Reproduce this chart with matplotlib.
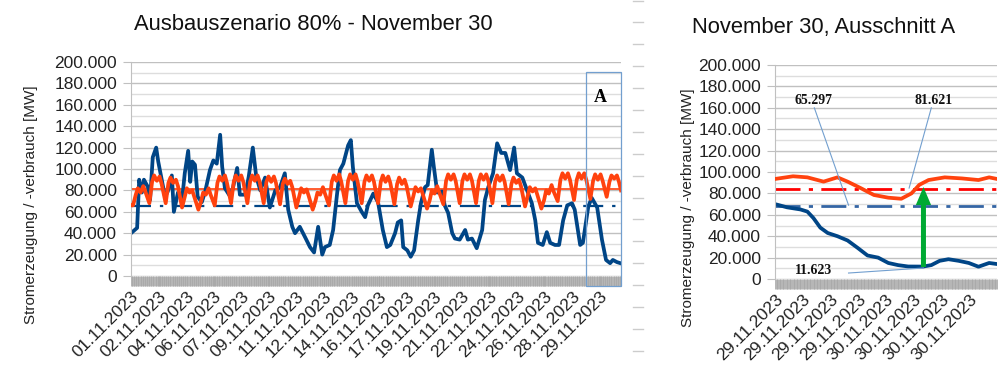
import matplotlib.pyplot as plt
import numpy as np
from matplotlib.ticker import FuncFormatter, MultipleLocator, FixedLocator
from matplotlib.lines import Line2D
from matplotlib.patches import Rectangle

plt.rcParams['font.family'] = ['Liberation Sans', 'DejaVu Sans']

BLUE = '#004586'
ORANGE = '#ff420e'
GRID = '#c0c0c0'
GRID_MINOR = '#dddddd'
LEAD = '#729fcf'
GREEN = '#00a933'

# --- Monat November (Stunden ab 01.11.2023 00:00), Werte in 1000 MW ---
gen_hours = [0, 9, 12, 16, 19, 25, 28, 32, 37, 40, 46, 50, 54, 60, 63, 69, 75, 79,
             84, 87, 90, 94, 98, 104, 109, 116, 121, 126, 131, 134, 138, 146, 150,
             156, 160, 168, 173, 179, 184, 190, 197, 204, 212, 219, 226, 231, 237,
             241, 248, 256, 263, 269, 275, 281, 285, 292, 297, 303, 307, 312, 319,
             323, 326, 332, 339, 344, 348, 356, 363, 370, 376, 381, 388, 392, 397,
             400, 406, 411, 416, 422, 426, 432, 436, 442, 445, 450, 457, 461, 466,
             472, 476, 483, 491, 495, 501, 508, 516, 520, 525, 532, 538, 544, 550,
             557, 563, 567, 575, 582, 589, 594, 598, 605, 611, 616, 623, 629, 635,
             641, 648, 652, 660, 664, 672, 677, 685, 692, 698, 704, 708, 714, 719]
gen_k = [40, 45, 90, 78, 90, 83, 71, 111, 120, 107, 87, 74, 79, 94, 60, 78, 71, 96,
         117, 88, 107, 104, 74, 69, 79, 99, 108, 105, 132, 102, 82, 74, 83,
         101, 76, 76, 93, 120, 93, 80, 92, 64, 80, 83, 96, 62, 46,
         40, 46, 36, 27, 22, 46, 20, 27, 29, 43, 78, 99, 105, 122,
         127, 102, 68, 60, 55, 66, 77, 69, 43, 27, 29, 40, 50, 52,
         27, 24, 18, 24, 52, 68, 83, 85, 118, 102, 78, 79, 66, 59,
         40, 35, 34, 43, 34, 35, 26, 43, 71, 83, 96, 124, 115, 115,
         99, 120, 96, 92, 80, 68, 52, 31, 29, 41, 31, 29, 29, 52,
         66, 68, 62, 29, 31, 65, 73, 64, 34, 15, 12, 15, 13, 12]

# Verbrauch je Tag, Werte um 03, 07, 10, 14, 18 und 21 Uhr
cons_hour_of_day = [3, 7, 10, 14, 18, 21]
cons_days_k = [
    [66, 76, 82, 78, 84, 79], [68, 88, 94, 89, 93, 86], [68, 87, 92, 87, 90, 84],
    [64, 74, 82, 78, 80, 74], [62, 70, 78, 76, 82, 76], [66, 87, 93, 89, 94, 87],
    [68, 88, 94, 89, 94, 88], [68, 88, 94, 89, 94, 88], [68, 88, 93, 88, 93, 87],
    [67, 86, 91, 86, 89, 83], [64, 74, 82, 78, 81, 75], [62, 70, 78, 76, 83, 77],
    [66, 88, 94, 89, 95, 88], [68, 89, 95, 90, 95, 88], [68, 88, 94, 89, 94, 88],
    [68, 88, 94, 88, 93, 87], [67, 86, 92, 86, 90, 84], [65, 75, 83, 79, 82, 76],
    [63, 71, 80, 77, 84, 78], [67, 89, 95, 90, 95, 89], [68, 89, 95, 90, 95, 89],
    [68, 89, 95, 90, 95, 89], [68, 88, 94, 89, 94, 88], [67, 86, 92, 87, 90, 84],
    [65, 75, 83, 79, 82, 76], [63, 71, 80, 77, 85, 79], [70, 90, 96, 91, 96, 90],
    [71, 90, 96, 91, 96, 90], [72, 89, 95, 90, 95, 89], [74, 88, 94, 91, 94, 88],
]
cons_start_k = 66
cons_end_k = 80

mean_gen = 65297
mean_cons = 81621

left_ticklabels = ['01.11.2023', '02.11.2023', '04.11.2023', '06.11.2023', '07.11.2023',
                   '09.11.2023', '11.11.2023', '12.11.2023', '14.11.2023', '16.11.2023',
                   '17.11.2023', '19.11.2023', '21.11.2023', '22.11.2023', '24.11.2023',
                   '26.11.2023', '28.11.2023', '29.11.2023']

# --- Ausschnitt A: 29.11. 00:00 bis 30.11. 24:00 (Stunden), Werte in 1000 MW ---
a_gen_hours = [0, 2.6, 5.5, 7, 8.3, 9.8, 11.4, 13.5, 15.7, 17.9, 20, 22.3, 24.5, 26.6,
               28.8, 32, 33.8, 35.6, 37.5, 39.7, 41.9, 44, 46.3, 48]
a_gen_k = [70, 67, 65, 63, 57, 48, 43, 40, 36, 29, 22, 20, 15, 13,
           11.7, 11.623, 13, 17, 18.5, 17, 15, 11.5, 15, 14]
a_cons_hours = [0, 3.9, 7, 10.5, 13.5, 15.7, 18.5, 21.4, 24.5, 27.3, 29.5, 31.2, 33.2,
                36.7, 40.4, 44, 46.3, 48]
a_cons_k = [93.5, 96, 95, 91, 95, 91, 85, 78.5, 76, 75, 80, 88, 92.5,
            95, 94, 92.5, 95, 93.5]
a_mean_gen = 68500
a_mean_cons = 84500
right_ticklabels = ['29.11.2023'] * 4 + ['30.11.2023'] * 4

# ---------------------------------------------------------------------------
gen_mw = np.array(gen_k) * 1000
cons_h = [0]
cons_mw = [cons_start_k * 1000]
for d, vals in enumerate(cons_days_k):
    for hh, v in zip(cons_hour_of_day, vals):
        cons_h.append(d * 24 + hh)
        cons_mw.append(v * 1000)
cons_h.append(720)
cons_mw.append(cons_end_k * 1000)


def de_fmt(v, pos):
    return f"{int(round(v)):,}".replace(",", ".")


def style_axes(ax):
    ax.set_ylim(0, 200000)
    ax.yaxis.set_major_locator(MultipleLocator(20000))
    ax.yaxis.set_minor_locator(MultipleLocator(10000))
    ax.yaxis.set_major_formatter(FuncFormatter(de_fmt))
    ax.grid(True, which='major', axis='y', color=GRID, lw=1)
    ax.grid(True, which='minor', axis='y', color=GRID_MINOR, lw=1)
    ax.set_axisbelow(True)
    for s in ['top', 'right', 'bottom']:
        ax.spines[s].set_visible(False)
    ax.spines['left'].set_color(GRID)
    ax.tick_params(axis='y', which='major', length=6, color=GRID, labelsize=12.5,
                   labelcolor='#222222', pad=4)
    ax.tick_params(axis='y', which='minor', length=0)
    ax.tick_params(axis='x', which='both', length=7, color='#a8a8a8', width=0.6)
    ax.tick_params(axis='x', which='major', labelsize=12.5, labelcolor='#222222', pad=2)


fig = plt.figure(figsize=(10, 3.68), dpi=100)

# --- linkes Diagramm ---
ax1 = fig.add_axes([0.131, 0.25, 0.49, 0.5815])
style_axes(ax1)
ax1.set_xlim(0, 720)
ax1.axhline(mean_gen, color=BLUE, lw=1.6, ls=(0, (9, 4, 1.5, 4)), zorder=1.5)
ax1.axhline(mean_cons, color=ORANGE, lw=1.2, zorder=1.5)
ax1.plot(gen_hours, gen_mw, color=BLUE, lw=2.7, solid_joinstyle='round', zorder=2)
ax1.plot(cons_h, cons_mw, color=ORANGE, lw=2.7, solid_joinstyle='round', zorder=3)
left_pos = [i * 40.5 for i in range(len(left_ticklabels))]
ax1.xaxis.set_major_locator(FixedLocator(left_pos))
ax1.xaxis.set_minor_locator(MultipleLocator(1))
ax1.set_xticklabels(left_ticklabels, rotation=45, ha='right', va='top',
                    rotation_mode='anchor')
ax1.add_patch(Rectangle((668, -9500), 52, 200000, fill=False, ec=LEAD, lw=0.9,
                        clip_on=False, zorder=4))
ax1.text(690, 167000, 'A', ha='center', va='center', fontsize=13, fontweight='bold',
         family=['Liberation Serif', 'DejaVu Serif'])

fig.text(0.313, 1 - 25 / 368, 'Ausbauszenario 80% - November 30', ha='center',
         va='center', fontsize=15.8, color='#111111')
fig.text(0.031, 1 - 205 / 368, 'Stromerzeugung / -verbrauch [MW]', rotation=90,
         ha='center', va='center', fontsize=11, color='#222222')

# --- rechtes Diagramm ---
ax2 = fig.add_axes([0.775, 0.2418, 0.222, 0.5816])
style_axes(ax2)
ax2.set_xlim(0, 48)
ax2.axhline(a_mean_gen, color='#3465a4', lw=2, ls=(0, (9, 3, 1.5, 3)), zorder=1.5)
ax2.axhline(a_mean_cons, color='#ff0000', lw=2, ls=(0, (9, 3, 1.5, 3)), zorder=1.5)
ax2.plot(a_gen_hours, np.array(a_gen_k) * 1000, color=BLUE, lw=2.7,
         solid_joinstyle='round', zorder=2)
ax2.plot(a_cons_hours, np.array(a_cons_k) * 1000, color=ORANGE, lw=2.7,
         solid_joinstyle='round', zorder=3)
ax2.xaxis.set_major_locator(FixedLocator([i * 6 for i in range(len(right_ticklabels))]))
ax2.xaxis.set_minor_locator(FixedLocator(np.arange(0, 48.01, 1 / 6)))
ax2.set_xticklabels(right_ticklabels, rotation=45, ha='right', va='top',
                    rotation_mode='anchor')

serif = ['Liberation Serif', 'DejaVu Serif']
ax2.plot([8.5, 15.9], [160000, 69000], color=LEAD, lw=0.8, zorder=4)
ax2.plot([33.8, 29.0], [160000, 85000], color=LEAD, lw=0.8, zorder=4)
ax2.plot([15.9, 32.1], [5600, 10300], color=LEAD, lw=0.8, zorder=4)
ax2.text(8.3, 167000, '65.297', ha='center', va='center', fontsize=10,
         fontweight='bold', family=serif, color='#111111')
ax2.text(34.3, 167000, '81.621', ha='center', va='center', fontsize=10,
         fontweight='bold', family=serif, color='#111111')
ax2.text(8.3, 8400, '11.623', ha='center', va='center', fontsize=10,
         fontweight='bold', family=serif, color='#111111')
ax2.annotate('', xy=(32.1, 86000), xytext=(32.1, 11200),
             arrowprops=dict(width=3.6, headwidth=11, headlength=13, shrink=0,
                             color=GREEN, lw=0), zorder=5)

fig.text(0.824, 1 - 28 / 368, 'November 30, Ausschnitt A', ha='center', va='center',
         fontsize=15.8, color='#111111')
fig.text(0.688, 1 - 208 / 368, 'Stromerzeugung / -verbrauch [MW]', rotation=90,
         ha='center', va='center', fontsize=11, color='#222222')

# gestrichelte Trennlinie zwischen den Diagrammen
for y in np.arange(0.5, 368, 21.9):
    fig.add_artist(Line2D([0.633, 0.643], [1 - y / 368] * 2, color='#cccccc', lw=1))

fig.savefig('out.png', dpi=100)
